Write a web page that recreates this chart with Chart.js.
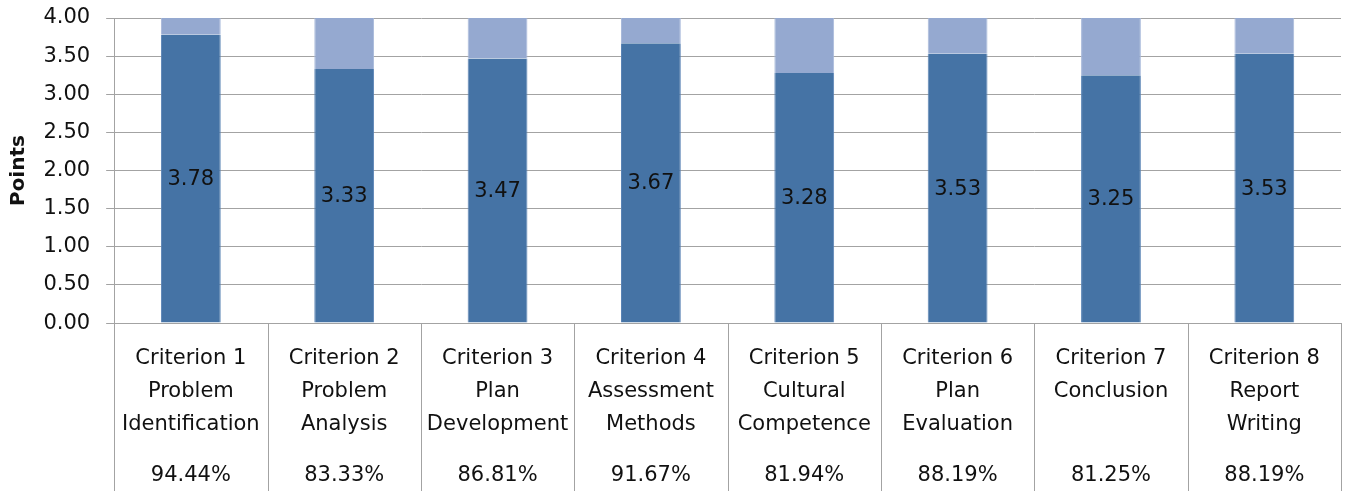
<!DOCTYPE html>
<html>
<head>
<meta charset="utf-8">
<script src="https://cdn.jsdelivr.net/npm/chart.js@4/dist/chart.umd.min.js"></script>
<style>
html,body{margin:0;padding:0;background:#fff;}
#wrap{width:1347px;height:497px;}
</style>
</head>
<body>
<div id="wrap"><canvas id="c" width="1347" height="497"></canvas></div>
<script>
const categories = [
  ["Criterion 1","Problem","Identification"],
  ["Criterion 2","Problem","Analysis"],
  ["Criterion 3","Plan","Development"],
  ["Criterion 4","Assessment","Methods"],
  ["Criterion 5","Cultural","Competence"],
  ["Criterion 6","Plan","Evaluation"],
  ["Criterion 7","Conclusion",""],
  ["Criterion 8","Report","Writing"]
];
const scores = [3.78, 3.33, 3.47, 3.67, 3.28, 3.53, 3.25, 3.53];
const remainder = [0.22, 0.67, 0.53, 0.33, 0.72, 0.47, 0.75, 0.47];
const percentLabels = ["94.44%","83.33%","86.81%","91.67%","81.94%","88.19%","81.25%","88.19%"];
const yMin = 0, yMax = 4, yStep = 0.5;

const FONT = "'DejaVu Sans', sans-serif";
const GRID = "#a3a3a3";

const valueLabels = {
  id: 'valueLabels',
  afterDatasetsDraw(chart) {
    const ctx = chart.ctx;
    const meta = chart.getDatasetMeta(0);
    ctx.save();
    ctx.font = "21px " + FONT;
    ctx.fillStyle = "#111";
    ctx.textAlign = "center";
    ctx.textBaseline = "middle";
    meta.data.forEach((bar, i) => {
      const p = bar.getProps(['x','y','base'], true);
      ctx.fillText(scores[i].toFixed(2), p.x, (p.y + p.base) / 2 + 1);
    });
    ctx.restore();
  }
};

const separators = {
  id: 'separators',
  afterDraw(chart) {
    const xs = chart.scales.x;
    const ps = chart.scales.xPct;
    const n = categories.length;
    const ctx = chart.ctx;
    ctx.save();
    ctx.strokeStyle = GRID;
    ctx.lineWidth = 1;
    for (let i = 0; i <= n; i++) {
      const x = Math.round(xs.left + i * xs.width / n) + 0.5;
      ctx.beginPath();
      ctx.moveTo(x, chart.chartArea.bottom);
      ctx.lineTo(x, ps.bottom - 1);
      ctx.stroke();
    }
    ctx.restore();
  }
};

new Chart(document.getElementById('c'), {
  type: 'bar',
  data: {
    labels: categories,
    datasets: [
      { label: 'Score', data: scores, backgroundColor: '#4573a5', borderColor: '#5b84b5', borderWidth: {left:1,right:1,top:0,bottom:0}, barPercentage: 0.78, categoryPercentage: 0.5 },
      { label: 'Remaining', data: remainder, backgroundColor: '#95a9d0', borderColor: '#a8b9da', borderWidth: {left:1,right:1,top:0,bottom:0}, barPercentage: 0.78, categoryPercentage: 0.5 }
    ]
  },
  options: {
    responsive: false,
    animation: false,
    layout: { padding: { top: 18, right: 6, left: 0, bottom: 5 } },
    plugins: { legend: { display: false }, tooltip: { enabled: false } },
    scales: {
      x: {
        stacked: true,
        grid: { display: false, drawTicks: false },
        border: { display: true, color: GRID, width: 1 },
        ticks: { color: '#111', font: { family: FONT, size: 21, lineHeight: 1.57 }, padding: 19, maxRotation: 0, autoSkip: false }
      },
      xPct: {
        type: 'category',
        position: 'bottom',
        weight: 5,
        labels: percentLabels,
        grid: { display: false, drawTicks: false },
        border: { display: false },
        ticks: { color: '#111', font: { family: FONT, size: 21, lineHeight: 1.2 }, padding: 3.4, maxRotation: 0, autoSkip: false }
      },
      y: {
        stacked: true,
        min: yMin, max: yMax,
        afterFit: (s) => { s.paddingTop = 0; },
        ticks: { stepSize: yStep, color: '#111', font: { family: FONT, size: 21 }, padding: 16, callback: v => Number(v).toFixed(2) },
        grid: { color: GRID, lineWidth: 1, drawTicks: true, tickLength: 8 },
        border: { display: true, color: GRID, width: 1 },
        title: { display: true, text: 'Points', color: '#111', font: { family: FONT, size: 20, weight: 'bold', lineHeight: 0.87 }, padding: { top: 10, bottom: 0 } }
      }
    }
  },
  plugins: [valueLabels, separators]
});
</script>
</body>
</html>
